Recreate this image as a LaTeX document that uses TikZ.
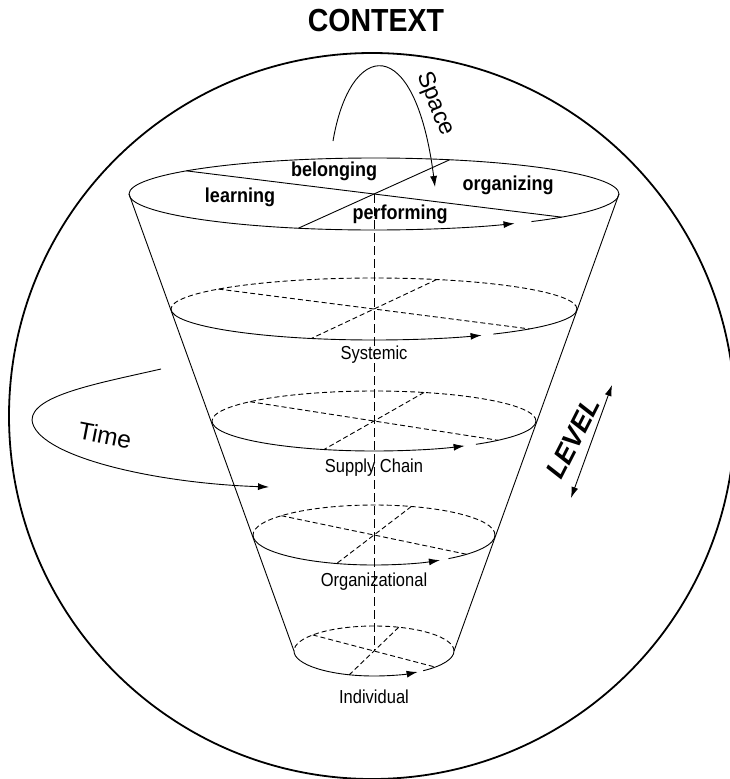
\documentclass[tikz,border=0pt]{standalone}
\usepackage{fontspec}
\setmainfont{Liberation Sans}
\usetikzlibrary{arrows.meta}

\begin{document}
\begin{tikzpicture}[x=1pt, y=-1pt, line width=0.9pt, >={Latex[length=11pt,width=7pt]},
  lvl/.style={font=\fontsize{16.5}{18}\selectfont, yscale=1.14},
  dim/.style={font=\fontsize{18}{20}\selectfont\bfseries, yscale=1.12},
  hid/.style={dash pattern=on 5pt off 3pt},
  axis/.style={dash pattern=on 9pt off 4pt}]
\useasboundingbox (0,0) rectangle (730,779);

\node (context)[font=\fontsize{28.5}{30}\selectfont\bfseries, yscale=1.12] at (376,21) {CONTEXT};
\draw[line width=1.8pt] (372,416) circle[radius=363];

% top rim
\begin{scope}[shift={(374,194)}]
\coordinate (c1) at (0,0);
\coordinate (l1) at (180:245 and 36);
\coordinate (r1) at (0:245 and 36);
\draw (r1) arc[start angle=0, end angle=-180, x radius=245, y radius=36];
\draw[->] (l1) arc[start angle=180, end angle=55, x radius=245, y radius=36];
\draw (50:245 and 36) arc[start angle=50, end angle=0, x radius=245, y radius=36];
\draw (220:245 and 36) -- (40:245 and 36);
\draw (288:245 and 36) -- (108:245 and 36);
\node (belonging)[dim] at (-40,-23) {belonging};
\node (learning)[dim] at (-134,3) {learning};
\node (organizing)[dim] at (134,-9) {organizing};
\node (performing)[dim] at (26,20) {performing};
\end{scope}

% systemic
\begin{scope}[shift={(374,309)}]
\coordinate (c2) at (0,0);
\draw[hid] (0:203 and 31) arc[start angle=0, end angle=-180, x radius=203, y radius=31];
\draw[->] (180:203 and 31) arc[start angle=180, end angle=58, x radius=203, y radius=31];
\draw (54:203 and 31) arc[start angle=54, end angle=0, x radius=203, y radius=31];
\draw[hid] (220:203 and 31) -- (40:203 and 31);
\draw[hid] (288:203 and 31) -- (108:203 and 31);
\node (systemic)[lvl] at (0,46) {Systemic};
\end{scope}

% supply chain
\begin{scope}[shift={(374,421)}]
\coordinate (c3) at (0,0);
\draw[hid] (0:162 and 30) arc[start angle=0, end angle=-180, x radius=162, y radius=30];
\draw[->] (180:162 and 30) arc[start angle=180, end angle=56, x radius=162, y radius=30];
\draw (51:162 and 30) arc[start angle=51, end angle=0, x radius=162, y radius=30];
\draw[hid] (220:162 and 30) -- (40:162 and 30);
\draw[hid] (288:162 and 30) -- (108:162 and 30);
\node (supply)[lvl] at (0,47) {Supply Chain};
\end{scope}

% organizational
\begin{scope}[shift={(374,535)}]
\coordinate (c4) at (0,0);
\draw[hid] (0:121 and 30) arc[start angle=0, end angle=-180, x radius=121, y radius=30];
\draw[->] (180:121 and 30) arc[start angle=180, end angle=57, x radius=121, y radius=30];
\draw (52:121 and 30) arc[start angle=52, end angle=0, x radius=121, y radius=30];
\draw[hid] (220:121 and 30) -- (40:121 and 30);
\draw[hid] (288:121 and 30) -- (108:121 and 30);
\node (organizational)[lvl] at (0,47) {Organizational};
\end{scope}

% individual
\begin{scope}[shift={(374,651)}]
\coordinate (c5) at (0,0);
\coordinate (l5) at (180:80 and 25);
\coordinate (r5) at (0:80 and 25);
\draw[hid] (r5) arc[start angle=0, end angle=-180, x radius=80, y radius=25];
\draw[->] (l5) arc[start angle=180, end angle=57, x radius=80, y radius=25];
\draw (52:80 and 25) arc[start angle=52, end angle=0, x radius=80, y radius=25];
\draw[hid] (220:80 and 25) -- (40:80 and 25);
\draw[hid] (288:80 and 25) -- (108:80 and 25);
\node (individual)[lvl] at (0,46) {Individual};
\end{scope}

% cone sides and axis
\draw (l1) -- (l5);
\draw (r1) -- (r5);
\draw[axis] (c1) -- (c5);

% space
\coordinate (sp1) at (333,141);
\coordinate (sp2) at (435,187);
\draw[->] (sp1) .. controls (350,40) and (415,30) .. (sp2);
\node (space)[font=\fontsize{23.5}{25}\selectfont, rotate=-68] at (435,104) {Space};

% time
\coordinate (tm1) at (161,369);
\coordinate (tm2) at (269,487);
\draw[->] (tm1) .. controls (100,383) and (32,395) .. (32,420) .. controls (35,455) and (150,483) .. (tm2);
\node (time)[font=\fontsize{24.5}{26}\selectfont, rotate=-11] at (105,435) {Time};

% level
\coordinate (lv1) at (571,498);
\coordinate (lv2) at (612,385);
\draw[<->] (lv1) -- (lv2);
\node (level)[font=\fontsize{27}{29}\selectfont\bfseries\itshape, rotate=63] at (573,438) {LEVEL};
\end{tikzpicture}
\end{document}
